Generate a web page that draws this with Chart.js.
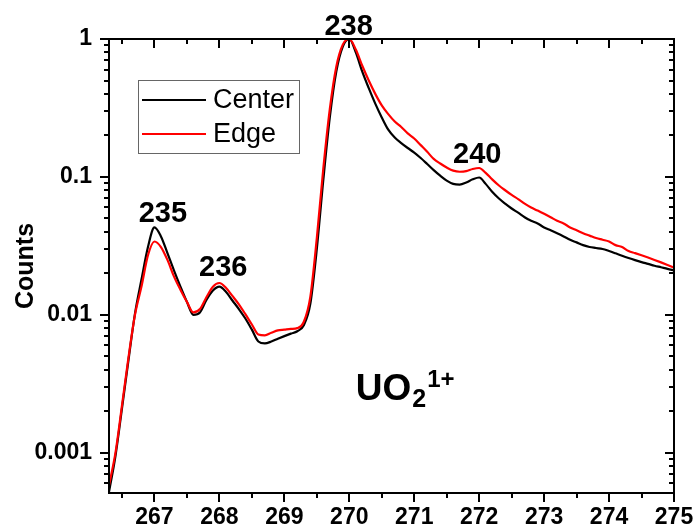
<!DOCTYPE html>
<html>
<head>
<meta charset="utf-8">
<script src="https://cdn.jsdelivr.net/npm/chart.js@4.4.1/dist/chart.umd.min.js"></script>
<style>
  html, body { margin: 0; padding: 0; background: #fff; }
  #wrap { width: 694px; height: 529px; }
</style>
</head>
<body>
<div id="wrap"><canvas id="myChart" width="694" height="529"></canvas></div>
<script>
const FONT = "'Liberation Sans', Arial, sans-serif";

// mass axis (amu)
const masses = [
  266.3, 266.4, 266.5, 266.6, 266.7, 266.8, 266.9, 267.0, 267.1, 267.2,
  267.3, 267.4, 267.5, 267.6, 267.7, 267.8, 267.9, 268.0, 268.1, 268.2,
  268.3, 268.4, 268.5, 268.6, 268.7, 268.8, 268.9, 269.0, 269.1, 269.2,
  269.3, 269.4, 269.5, 269.6, 269.7, 269.8, 269.9, 270.0, 270.1, 270.2,
  270.3, 270.4, 270.5, 270.6, 270.7, 270.8, 270.9, 271.0, 271.1, 271.2,
  271.3, 271.4, 271.5, 271.6, 271.7, 271.8, 271.9, 272.0, 272.1, 272.2,
  272.3, 272.4, 272.5, 272.6, 272.7, 272.8, 272.9, 273.0, 273.1, 273.2,
  273.3, 273.4, 273.5, 273.6, 273.7, 273.8, 273.9, 274.0, 274.1, 274.2,
  274.3, 274.4, 274.5, 274.6, 274.7, 274.8, 274.9, 275.0
];

const center = [
  0.00052, 0.00095, 0.0021, 0.0047, 0.0102, 0.018, 0.031, 0.043, 0.037, 0.028,
  0.021, 0.016, 0.0124, 0.0100, 0.0104, 0.0128, 0.0150, 0.0160, 0.0147, 0.0127,
  0.0110, 0.0094, 0.0078, 0.0064, 0.0062, 0.0064, 0.0067, 0.0070, 0.0073, 0.0076,
  0.0084, 0.0120, 0.030, 0.095, 0.27, 0.58, 0.88, 1.0, 0.80, 0.58,
  0.44, 0.34, 0.27, 0.22, 0.193, 0.176, 0.162, 0.150, 0.137, 0.124,
  0.112, 0.102, 0.094, 0.089, 0.088, 0.091, 0.096, 0.099, 0.089, 0.078,
  0.070, 0.064, 0.059, 0.055, 0.051, 0.048, 0.046, 0.043, 0.041, 0.039,
  0.037, 0.035, 0.0335, 0.032, 0.031, 0.0305, 0.030, 0.029, 0.0279, 0.0268,
  0.0258, 0.0249, 0.0241, 0.0234, 0.0227, 0.0221, 0.0215, 0.0210
];

const edge = [
  0.00058, 0.0010, 0.0022, 0.0049, 0.0100, 0.016, 0.027, 0.034, 0.031, 0.025,
  0.019, 0.0152, 0.0124, 0.0104, 0.0110, 0.0134, 0.0160, 0.0170, 0.0157, 0.0137,
  0.0119, 0.0101, 0.0085, 0.0072, 0.0071, 0.0074, 0.0077, 0.0078, 0.0079, 0.0080,
  0.0089, 0.0135, 0.036, 0.115, 0.31, 0.63, 0.91, 1.0, 0.84, 0.64,
  0.50, 0.40, 0.33, 0.285, 0.252, 0.230, 0.207, 0.190, 0.170, 0.152,
  0.135, 0.125, 0.117, 0.111, 0.109, 0.110, 0.114, 0.116, 0.107, 0.096,
  0.087, 0.080, 0.074, 0.069, 0.064, 0.060, 0.057, 0.054, 0.051, 0.048,
  0.046, 0.043, 0.041, 0.039, 0.0375, 0.036, 0.035, 0.034, 0.032, 0.031,
  0.029, 0.028, 0.027, 0.026, 0.025, 0.024, 0.023, 0.022
];

// peak tags: isotope mass, anchored at (x, y) in data units
const peakTags = ['235', '236', '238', '240'];
const peakTagX = [267.13, 268.06, 269.99, 271.97];
const peakTagY = [0.0474, 0.0192, 1.07, 0.127];

const xMin = 266.3, xMax = 275;
const yMin = 0.00051, yMax = 1;

let toPoints = function(ys) {
  return masses.map((m, i) => ({ x: m, y: ys[i] }));
};

// frame, ticks (out on bottom/left, in on top/right), legend, labels
const decor = {
  id: 'decor',
  afterDraw(chart) {
    const c = chart.ctx;
    const a = chart.chartArea;
    const xs = chart.scales.x, ys = chart.scales.y;
    c.save();
    c.strokeStyle = '#000';
    c.lineWidth = 2;
    c.strokeRect(a.left, a.top, a.right - a.left, a.bottom - a.top);

    // x ticks every 0.5
    for (let v = Math.ceil(xMin * 2) / 2; v <= xMax + 1e-9; v += 0.5) {
      const px = Math.round(xs.getPixelForValue(v));
      const len = Math.abs(v - Math.round(v)) < 1e-6 ? 9 : 5;
      c.beginPath();
      c.moveTo(px, a.bottom); c.lineTo(px, a.bottom + len);
      c.moveTo(px, a.top); c.lineTo(px, a.top + len);
      c.stroke();
    }
    // y log ticks
    for (let e = -4; e <= 0; e++) {
      for (let m = 1; m <= 9; m++) {
        const v = m * Math.pow(10, e);
        if (v < yMin || v > yMax * 1.0001) continue;
        const py = Math.round(ys.getPixelForValue(v));
        const len = m === 1 ? 9 : 5;
        c.beginPath();
        c.moveTo(a.left, py); c.lineTo(a.left - len, py);
        c.moveTo(a.right, py); c.lineTo(a.right - len, py);
        c.stroke();
      }
    }

    // legend
    const bx = a.left + 29, by = a.top + 41;
    c.lineWidth = 1;
    c.strokeStyle = '#666';
    c.strokeRect(bx + 0.5, by + 0.5, 161, 73);
    c.font = '27px ' + FONT;
    c.textBaseline = 'middle';
    c.textAlign = 'left';
    chart.data.datasets.forEach((ds, i) => {
      const ly = by + 20 + i * 34;
      c.strokeStyle = ds.borderColor;
      c.lineWidth = 2;
      c.beginPath();
      c.moveTo(bx + 4, ly); c.lineTo(bx + 68, ly);
      c.stroke();
      c.fillStyle = '#000';
      c.fillText(ds.label, bx + 75, ly + 1);
    });

    // peak tags
    c.fillStyle = '#000';
    c.font = 'bold 29px ' + FONT;
    c.textAlign = 'center';
    c.textBaseline = 'alphabetic';
    peakTags.forEach((t, i) => {
      c.fillText(t, xs.getPixelForValue(peakTagX[i]), ys.getPixelForValue(peakTagY[i]));
    });

    // UO2 1+ label
    const ix = xs.getPixelForValue(270.1), iy = ys.getPixelForValue(0.00243);
    c.textAlign = 'left';
    c.font = 'bold 37px ' + FONT;
    c.fillText('UO', ix, iy);
    let w = c.measureText('UO').width;
    c.font = 'bold 25px ' + FONT;
    c.fillText('2', ix + w + 1, iy + 7);
    w += c.measureText('2').width + 2;
    c.font = 'bold 24px ' + FONT;
    c.fillText('1+', ix + w, iy - 13);
    c.restore();
  }
};

const ctx = document.getElementById('myChart');

let chart = new Chart(ctx, {
  type: 'line',
  data: {
    datasets: [{
      label: 'Center',
      data: toPoints(center),
      borderColor: '#000000',
      borderWidth: 2.2,
      order: 2
    }, {
      label: 'Edge',
      data: toPoints(edge),
      borderColor: '#ff0000',
      borderWidth: 2.2,
      order: 1
    }]
  },
  options: {
    responsive: false,
    animation: false,
    devicePixelRatio: 1,
    layout: { padding: { top: 39, right: 20, left: 0, bottom: 0 } },
    elements: {
      point: { radius: 0 },
      line: { cubicInterpolationMode: 'monotone' }
    },
    plugins: {
      legend: { display: false },
      tooltip: { enabled: false }
    },
    scales: {
      x: {
        type: 'linear',
        min: xMin,
        max: xMax,
        grid: { display: false, drawTicks: false },
        border: { display: false },
        afterFit: (s) => { s.height = 36; s.paddingLeft = 0; s.paddingRight = 0; },
        ticks: {
          stepSize: 0.5,
          autoSkip: false,
          maxRotation: 0,
          padding: 11,
          color: '#000',
          font: { family: FONT, size: 23, weight: 'bold' },
          callback: (v) => (Math.abs(v - Math.round(v)) < 1e-6 && v >= 267) ? String(Math.round(v)) : ''
        }
      },
      y: {
        type: 'logarithmic',
        min: yMin,
        max: yMax,
        grid: { display: false, drawTicks: false },
        border: { display: false },
        afterFit: (s) => { s.width = 109; s.paddingTop = 0; s.paddingBottom = 0; },
        title: {
          display: true,
          text: 'Counts',
          color: '#000',
          font: { family: FONT, size: 25, weight: 'bold' },
          padding: { top: 11, bottom: 0 }
        },
        ticks: {
          autoSkip: false,
          padding: 17,
          color: '#000',
          font: { family: FONT, size: 23, weight: 'bold' },
          callback: (v) => {
            const e = Math.round(Math.log10(v));
            if (Math.abs(v / Math.pow(10, e) - 1) > 1e-6) return '';
            return e >= 0 ? '1' : v.toFixed(-e);
          }
        }
      }
    }
  },
  plugins: [decor]
});
</script>
</body>
</html>
